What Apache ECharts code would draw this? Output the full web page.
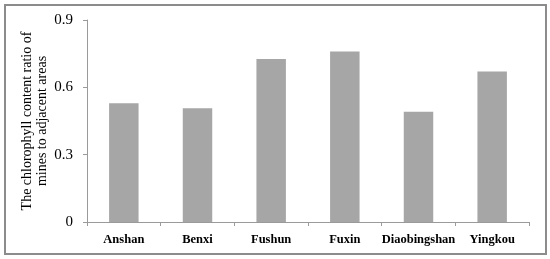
<!DOCTYPE html>
<html>
<head>
<meta charset="utf-8">
<script src="https://cdn.jsdelivr.net/npm/echarts@6/dist/echarts.min.js"></script>
<style>
  html, body { margin: 0; padding: 0; background: #fff; }
  #frame {
    position: absolute; left: 4px; top: 4px; width: 539px; height: 247px;
    border: 2px solid #8c8c8c;
  }
  #chart { position: absolute; left: 0; top: 0; width: 550px; height: 259px; }
</style>
</head>
<body>
<div id="frame"></div>
<div id="chart"></div>
<script>
const sites = ["Anshan", "Benxi", "Fushun", "Fuxin", "Diaobingshan", "Yingkou"];
const ratios = [0.529, 0.507, 0.726, 0.760, 0.491, 0.670];
const yTicks = [0, 0.3, 0.6, 0.9];

const serif = "'Liberation Serif', 'Times New Roman', serif";

const chart = echarts.init(document.getElementById("chart"), null, { renderer: "canvas" });

const option = {
  animation: false,
  grid: { left: 87, right: 21, top: 20, bottom: 37, containLabel: false, outerBoundsMode: "none" },
  xAxis: {
    type: "category",
    data: sites,
    axisLine: { lineStyle: { color: "#9a9a9a", width: 1 } },
    axisTick: { show: true, length: 4, alignWithLabel: false, lineStyle: { color: "#9a9a9a" } },
    axisLabel: {
      color: "#000",
      fontFamily: serif,
      fontWeight: "bold",
      fontSize: 12.5,
      margin: 11,
      interval: 0,
    },
  },
  yAxis: {
    type: "value",
    min: yTicks[0],
    max: yTicks[yTicks.length - 1],
    interval: 0.3,
    name: "The chlorophyll content ratio of\nmines to adjacent areas",
    nameLocation: "middle",
    nameRotate: 90,
    nameGap: 37,
    nameMoveOverlap: false,
    nameTextStyle: {
      color: "#000",
      fontFamily: serif,
      fontSize: 14,
      lineHeight: 15,
    },
    axisLine: { show: true, lineStyle: { color: "#9a9a9a", width: 1 } },
    axisTick: { show: true, length: 4, lineStyle: { color: "#9a9a9a" } },
    splitLine: { show: false },
    axisLabel: {
      color: "#000",
      fontFamily: serif,
      fontSize: 15,
      margin: 14,
      formatter: (v) => (v === 0 ? "0" : v.toFixed(1)),
    },
  },
  series: [
    {
      type: "bar",
      data: ratios,
      barWidth: "40%",
      itemStyle: { color: "#a6a6a6" },
    },
  ],
};

chart.setOption(option);
</script>
</body>
</html>
